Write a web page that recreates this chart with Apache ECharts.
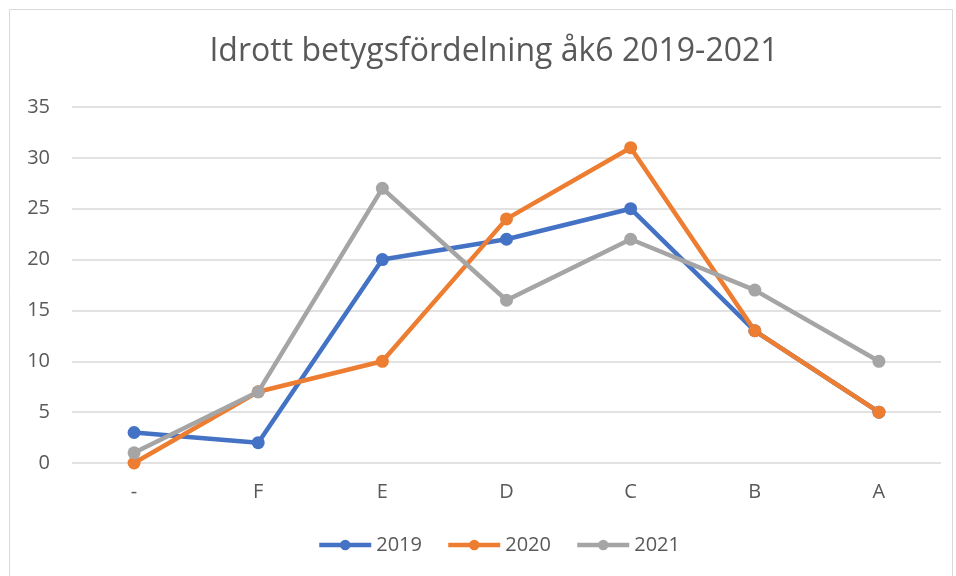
<!DOCTYPE html>
<html>
<head>
<meta charset="utf-8">
<script src="https://cdn.jsdelivr.net/npm/echarts@6/dist/echarts.min.js"></script>
<style>
  html, body { margin: 0; padding: 0; background: #fff; }
  #chart { width: 956px; height: 576px; }
</style>
</head>
<body>
<div id="chart"></div>
<script>
// betygsfördelning per år
const grades = ['-', 'F', 'E', 'D', 'C', 'B', 'A']
const y2019 = [3, 2, 20, 22, 25, 13, 5]
const y2020 = [0, 7, 10, 24, 31, 13, 5]
const y2021 = [1, 7, 27, 16, 22, 17, 10]
const years = ['2019', '2020', '2021']
const colors = ['#4472C4', '#ED7D31', '#A5A5A5']

const FONT = '"Open Sans", "Liberation Sans", sans-serif'
const TEXT = '#595959'

const chart = echarts.init(document.getElementById('chart'))

const line = (name, data, color) => ({
  name,
  type: 'line',
  data,
  symbol: 'circle',
  symbolSize: 13,
  color,
  lineStyle: { width: 4.5, color },
  itemStyle: { color },
  z: 2
})

chart.setOption({
  animation: false,
  color: colors,
  graphic: [
    {
      type: 'rect',
      shape: { x: 9.5, y: 9.5, width: 943, height: 580 },
      style: { fill: 'none', stroke: '#d9d9d9', lineWidth: 1 },
      silent: true
    }
  ],
  title: {
    text: 'Idrott betygsfördelning åk6 2019-2021',
    left: 489,
    textAlign: 'center',
    top: 31,
    textStyle: {
      fontFamily: FONT,
      fontSize: 32,
      fontWeight: 'normal',
      color: TEXT
    }
  },
  legend: {
    bottom: 16,
    left: 312,
    itemWidth: 52,
    itemHeight: 13,
    itemGap: 24,
    lineStyle: { width: 4.5 },
    textStyle: { fontFamily: FONT, fontSize: 20, color: TEXT },
    data: years
  },
  grid: {
    left: 72,
    right: 15,
    top: 107,
    bottom: 113
  },
  xAxis: {
    type: 'category',
    data: grades,
    boundaryGap: true,
    axisLine: { show: false },
    axisTick: { show: false },
    axisLabel: {
      margin: 19,
      fontFamily: FONT,
      fontSize: 20,
      color: TEXT
    }
  },
  yAxis: {
    type: 'value',
    min: 0,
    max: 35,
    interval: 5,
    axisLine: { show: false },
    axisTick: { show: false },
    axisLabel: {
      margin: 22,
      fontFamily: FONT,
      fontSize: 20,
      color: TEXT
    },
    splitLine: { lineStyle: { color: '#d9d9d9', width: 1.5 } }
  },
  series: [
    line(years[0], y2019, colors[0]),
    line(years[1], y2020, colors[1]),
    line(years[2], y2021, colors[2])
  ]
})
</script>
</body>
</html>
